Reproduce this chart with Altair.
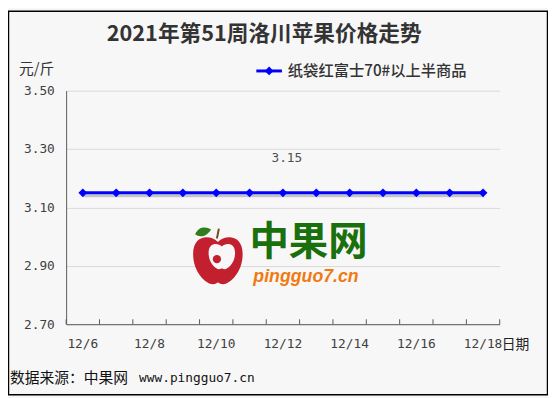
import altair as alt
import pandas as pd

# ---- data ----
dates = ["12/6", "12/7", "12/8", "12/9", "12/10", "12/11", "12/12",
         "12/13", "12/14", "12/15", "12/16", "12/17", "12/18"]
prices = [3.15, 3.15, 3.15, 3.15, 3.15, 3.15, 3.15,
          3.15, 3.15, 3.15, 3.15, 3.15, 3.15]
shown_dates = ["12/6", "12/8", "12/10", "12/12", "12/14", "12/16", "12/18"]
y_ticks = [2.70, 2.90, 3.10, 3.30, 3.50]
label_dates = ["12/12"]
label_values = [3.15]

title_text = ["2021年第51周洛川苹果价格走势"]
series_name = ["纸袋红富士70#以上半商品"]
y_unit = ["元/斤"]
x_unit = ["日期"]
source_cn = ["数据来源：中果网"]
source_url = ["www.pingguo7.cn"]
brand_cn = ["中果网"]
brand_url = ["pingguo7.cn"]

W, H = 440, 237
BLUE = "#0000ff"
CJK = "Noto Sans CJK SC"
MONO = "DejaVu Sans Mono"

df = pd.DataFrame({"date": dates, "price": prices})
lab = pd.DataFrame({"date": label_dates, "price": label_values})

xscale = alt.Scale(type="band", domain=dates, paddingInner=0, paddingOuter=0)
yscale = alt.Scale(domain=[2.7, 3.5], nice=False, zero=False)

xaxis = alt.Axis(values=shown_dates, ticks=False, grid=False, title=None,
                 labelFont=MONO, labelFontSize=13, labelColor="#404040",
                 labelPadding=14, domainColor="#595959", labelAngle=0,
                 bandPosition=0.5)
yaxis = alt.Axis(values=y_ticks, format=".2f", ticks=False, grid=True,
                 gridColor="#d9d9d9", title=None, labelFont=MONO,
                 labelFontSize=13, labelColor="#404040", labelPadding=12,
                 domainColor="#595959")

base = alt.Chart(df)

x_c = alt.X("date:N", scale=xscale, axis=xaxis, bandPosition=0.5)
y_c = alt.Y("price:Q", scale=yscale, axis=yaxis)

shadow = base.mark_line(color="#000000", opacity=0.2, strokeWidth=3,
                        xOffset=1, yOffset=3).encode(x=x_c, y=y_c)
line = base.mark_line(color=BLUE, strokeWidth=3).encode(x=x_c, y=y_c)
pts = base.mark_point(shape="diamond", filled=True, size=80, color=BLUE,
                      opacity=1).encode(x=x_c, y=y_c)

ticks = base.mark_rule(color="#595959").encode(
    x=alt.X("date:N", scale=xscale, bandPosition=0, axis=xaxis),
    y=alt.value(H), y2=alt.value(H - 5))
last_tick = alt.Chart(pd.DataFrame({"k": [0]})).mark_rule(color="#595959").encode(
    x=alt.value(W), y=alt.value(H), y2=alt.value(H - 5))

val_label = alt.Chart(lab).mark_text(font=MONO, fontSize=13, color="#505050",
                                     dy=-35, dx=4).encode(
    x=alt.X("date:N", scale=xscale, bandPosition=0.5, axis=xaxis),
    y=alt.Y("price:Q", scale=yscale, axis=yaxis),
    text=alt.Text("price:Q", format=".2f"))


def txt(values, x, y, **kw):
    return alt.Chart(pd.DataFrame({"t": values})).mark_text(**kw).encode(
        text="t:N", x=alt.value(x), y=alt.value(y))


title = txt(title_text, 201, -57, font=CJK, fontSize=22, fontWeight="bold",
            color="#333333", align="center", baseline="middle")
yunit = txt(y_unit, -30, -22, font=CJK, fontSize=15, color="#333333",
            align="center", baseline="middle")
xunit = txt(x_unit, 456, 258, font=CJK, fontSize=14, color="#222222",
            align="center", baseline="middle")
leg_line = alt.Chart(pd.DataFrame({"k": [0]})).mark_rule(
    color=BLUE, strokeWidth=3).encode(x=alt.value(193), x2=alt.value(219),
                                      y=alt.value(-20))
leg_pt = alt.Chart(pd.DataFrame({"k": [0]})).mark_point(
    shape="diamond", filled=True, size=80, color=BLUE, opacity=1).encode(
    x=alt.value(206), y=alt.value(-20))
leg_txt = txt(series_name, 225, -20, font=CJK, fontSize=15.5, fontWeight=500,
              color="#333333", align="left", baseline="middle")
src1 = txt(source_cn, -57, 292, font=CJK, fontSize=15, color="#111111",
           align="left", baseline="middle")
src2 = txt(source_url, 74, 292, font=MONO, fontSize=13, color="#111111",
           align="left", baseline="middle")

# watermark logo
apple_path = ("M0,-0.62 C-0.25,-0.9 -0.95,-0.95 -0.95,-0.15 C-0.95,0.55 -0.45,1 -0.2,1 "
              "C-0.08,1 -0.04,0.93 0,0.93 C0.04,0.93 0.08,1 0.2,1 C0.45,1 0.95,0.55 "
              "0.95,-0.15 C0.95,-0.95 0.25,-0.9 0,-0.62 Z")
leaf_path = "M-1,0.2 C-0.6,-0.8 0.4,-0.8 1,-0.4 C0.4,0.6 -0.5,0.6 -1,0.2 Z"
one = pd.DataFrame({"k": [0]})
apple = alt.Chart(one).mark_point(shape=apple_path, filled=True, size=2800,
                                  color="#c3202f", opacity=1).encode(
    x=alt.value(154), y=alt.value(170))
apple_in = alt.Chart(one).mark_point(shape=apple_path, filled=True, size=800,
                                     color="#f7f7f7", opacity=1).encode(
    x=alt.value(158), y=alt.value(167))
apple_dot = alt.Chart(one).mark_point(shape="circle", filled=True, size=70,
                                      color="#c3202f", opacity=1).encode(
    x=alt.value(153), y=alt.value(171))
leaf = alt.Chart(one).mark_point(shape=leaf_path, filled=True, size=260,
                                 color="#2f7d1c", opacity=1).encode(
    x=alt.value(139), y=alt.value(144))
stem = alt.Chart(one).mark_rule(color="#7a4a1a", strokeWidth=2).encode(
    x=alt.value(153), x2=alt.value(155), y=alt.value(150), y2=alt.value(140))
brand1 = txt(brand_cn, 246, 155, font=CJK, fontSize=40, fontWeight="bold",
             color="#1a700c", align="center", baseline="middle")
brand2 = txt(brand_url, 190, 189, font="Liberation Sans", fontSize=18,
             fontWeight="bold", fontStyle="italic", color="#f07a12",
             align="left", baseline="middle")

border = alt.Chart(one).mark_rect(fill=None, stroke="#000000",
                                  strokeWidth=1.5).encode(
    x=alt.value(-58.5), x2=alt.value(488.5), y=alt.value(-80.5),
    y2=alt.value(308.5))

chart = alt.layer(
    apple, apple_in, apple_dot, leaf, stem, brand1, brand2,
    ticks, last_tick, shadow, line, pts, val_label,
    title, yunit, xunit, leg_line, leg_pt, leg_txt, src1, src2, border,
).properties(
    width=W, height=H,
    autosize=alt.AutoSizeParams(type="none"),
    padding={"left": 59, "top": 81, "right": 49, "bottom": 72},
    background="#f7f7f7",
).configure_view(stroke=None)

chart.save("out.html", embed_options={"renderer": "svg", "actions": False})
